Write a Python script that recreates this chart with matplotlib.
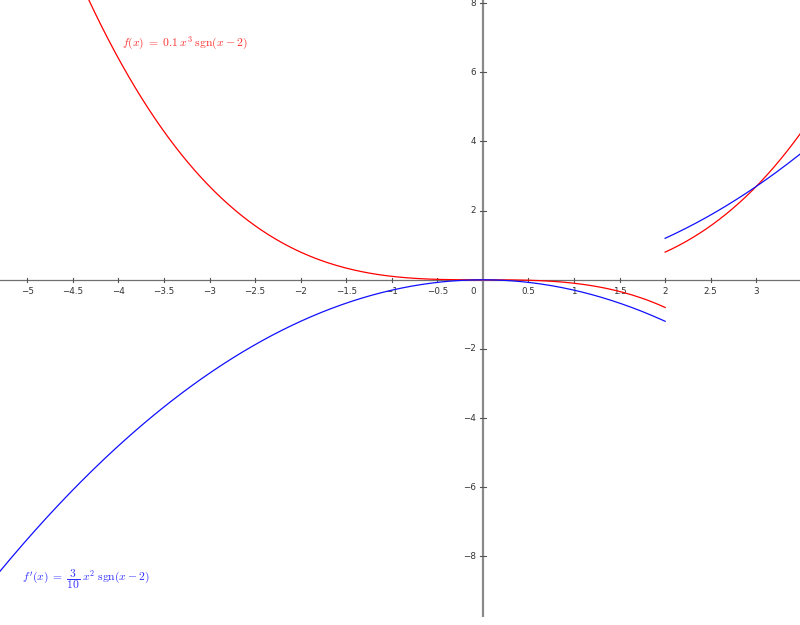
import numpy as np
import matplotlib
matplotlib.use("Agg")
import matplotlib.pyplot as plt

plt.rcParams['mathtext.fontset'] = 'cm'

# function coefficients as shown in the labels
coef_f = 0.1      # f(x) = 0.1 x^3 sgn(x-2)
coef_df = 0.3     # f'(x) = 3/10 x^2 sgn(x-2)
jump_at = 2.0

# visible window
xlim = (-5.30, 3.48)
ylim = (-9.75, 8.09)

xticks = [-5, -4.5, -4, -3.5, -3, -2.5, -2, -1.5, -1, -0.5, 0.5, 1, 1.5, 2, 2.5, 3]
xtick_labels = ['\u22125', '\u22124.5', '\u22124', '\u22123.5', '\u22123', '\u22122.5', '\u22122',
                '\u22121.5', '\u22121', '\u22120.5', '0.5', '1', '1.5', '2', '2.5', '3']
yticks = [-8, -6, -4, -2, 2, 4, 6, 8]
ytick_labels = ['\u22128', '\u22126', '\u22124', '\u22122', '2', '4', '6', '8']

fig = plt.figure(figsize=(8, 6.25), dpi=100)
ax = fig.add_axes([0, 8 / 625, 1, 617 / 625])
ax.set_xlim(*xlim)
ax.set_ylim(*ylim)
ax.axis('off')

ax.axhline(0, color='#707070', lw=0.9, zorder=1)
ax.axvline(0, color='#8a8a8a', lw=1.6, zorder=1)

# tick marks and labels
for x, lab in zip(xticks, xtick_labels):
    ax.plot([x, x], [-0.06, 0.06], color='#555555', lw=0.8)
    ax.text(x, -0.22, lab, ha='center', va='top', fontsize=6.3, color='#333333')
ax.text(-0.08, -0.22, '0', ha='right', va='top', fontsize=6.3, color='#333333')
for y, lab in zip(yticks, ytick_labels):
    ax.plot([-0.035, 0.035], [y, y], color='#555555', lw=0.8)
    ax.text(-0.08, y, lab, ha='right', va='center', fontsize=6.3, color='#333333')

# curves, split at the jump
left = np.linspace(xlim[0], jump_at, 400)
right = np.linspace(jump_at, xlim[1], 200)
for xs, s in [(left, -1), (right, 1)]:
    ax.plot(xs, coef_f * xs ** 3 * s, color='#ff0000', lw=0.9, zorder=3)
    ax.plot(xs, coef_df * xs ** 2 * s, color='#1010ff', lw=0.9, zorder=3)

ax.text(-3.96, 6.84, r'$f(x)\;=\;0.1\;x^3\;\mathrm{sgn}(x-2)$', color='#ff3030',
        fontsize=8.4, ha='left', va='center')
ax.text(-5.06, -8.65, r"$f'(x)\;=\;\dfrac{3}{10}\;x^2\;\mathrm{sgn}(x-2)$", color='#3030ff',
        fontsize=8.4, ha='left', va='center')

fig.savefig('out.png', dpi=100)
